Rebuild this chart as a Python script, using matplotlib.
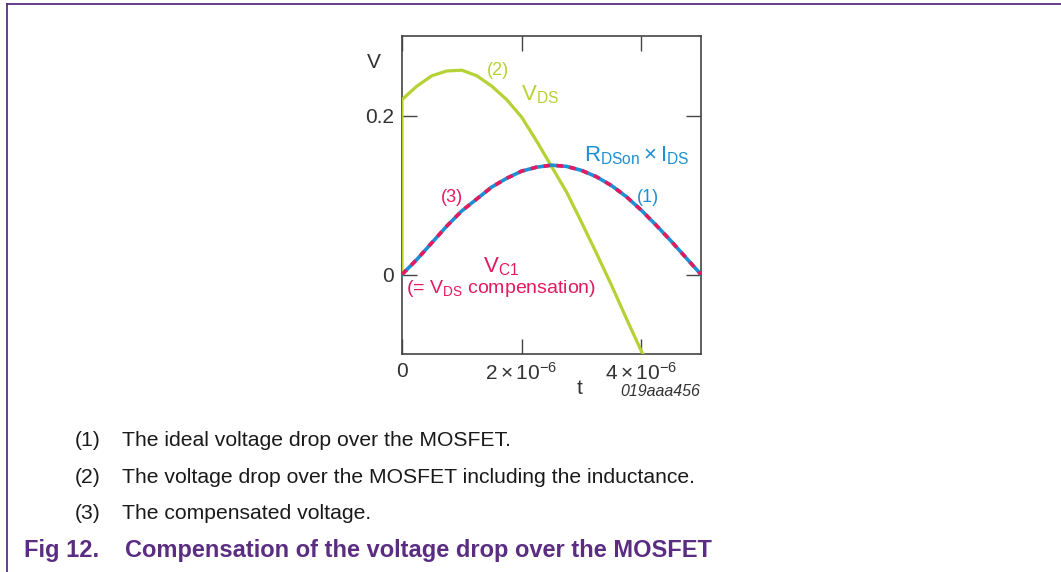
import numpy as np
import matplotlib
matplotlib.use('Agg')
import matplotlib.pyplot as plt
from matplotlib.lines import Line2D

plt.rcParams['font.family'] = ['Liberation Sans', 'DejaVu Sans']
plt.rcParams['mathtext.fontset'] = 'custom'
plt.rcParams['mathtext.rm'] = 'Liberation Sans'
plt.rcParams['mathtext.it'] = 'Liberation Sans:italic'
plt.rcParams['mathtext.bf'] = 'Liberation Sans:bold'

# data (time in microseconds, voltage in V)
t_ideal_us = [0, 0.25, 0.5, 0.75, 1.0, 1.25, 1.5, 1.75, 2.0, 2.25, 2.5,
              2.75, 3.0, 3.25, 3.5, 3.75, 4.0, 4.25, 4.5, 4.75, 5.0]
v_ideal = [0, 0.019, 0.040, 0.061, 0.080, 0.095, 0.110, 0.121, 0.130, 0.135, 0.1375,
           0.136, 0.131, 0.123, 0.112, 0.098, 0.081, 0.062, 0.042, 0.021, 0]
v_comp = v_ideal  # compensated voltage lies on top of the ideal curve

t_vds_us = [0, 0, 0.25, 0.5, 0.75, 1.0, 1.25, 1.5, 1.75, 2.0, 2.25, 2.5,
            2.75, 3.0, 3.25, 3.5, 3.75, 4.0, 4.03]
v_vds = [0, 0.220, 0.237, 0.250, 0.256, 0.257, 0.250, 0.237, 0.220, 0.198, 0.168, 0.136,
         0.104, 0.066, 0.027, -0.013, -0.055, -0.096, -0.100]

xticks = [0, 2e-6, 4e-6]
xtick_labels = ['0', r'$2\times10^{-6}$', r'$4\times10^{-6}$']
yticks = [0, 0.2]
ytick_labels = ['0', '0.2']

captions = ['The ideal voltage drop over the MOSFET.',
            'The voltage drop over the MOSFET including the inductance.',
            'The compensated voltage.']

blue = '#1e8fd2'
red = '#e5195e'
green = '#b5d235'
purple = '#5a2d82'
dark = '#333333'

W, H = 1061, 572
fig = plt.figure(figsize=(W / 100, H / 100), dpi=100)
ax = fig.add_axes([402 / W, 1 - 354 / H, 299 / W, 318 / H])

t_ideal = np.array(t_ideal_us) * 1e-6
t_vds = np.array(t_vds_us) * 1e-6

ax.plot(t_vds, v_vds, color=green, lw=2.3, zorder=3)
ax.plot(t_ideal, v_ideal, color=blue, lw=2.6, zorder=4)
ax.plot(t_ideal, v_comp, color=red, lw=2.6, dashes=(1.8, 1.8), zorder=5)

ax.set_xlim(0, 5e-6)
ax.set_ylim(-0.1, 0.3)
ax.set_xticks(xticks)
ax.set_xticklabels(xtick_labels)
ax.set_yticks(yticks)
ax.set_yticklabels(ytick_labels)
ax.tick_params(direction='in', top=True, right=True, length=11, width=1.0,
               color='#444444', labelsize=15, labelcolor=dark, pad=6)
for s in ax.spines.values():
    s.set_color('#444444')
    s.set_linewidth(1.2)

# curve annotations
ax.text(1.61e-6, 0.257, '(2)', color=green, fontsize=13, ha='center', va='center')
ax.text(2.31e-6, 0.226, r'$\mathrm{V_{DS}}$', color=green, fontsize=16, ha='center', va='center')
ax.text(3.93e-6, 0.149, r'$\mathrm{R_{DSon}\times I_{DS}}$', color=blue, fontsize=16,
        ha='center', va='center')
ax.text(4.12e-6, 0.097, '(1)', color=blue, fontsize=13, ha='center', va='center')
ax.text(0.83e-6, 0.097, '(3)', color=red, fontsize=13, ha='center', va='center')
ax.text(1.65e-6, 0.010, r'$\mathrm{V_{C1}}$', color=red, fontsize=16, ha='center', va='center')
ax.text(1.66e-6, -0.018, r'(= $\mathrm{V_{DS}}$ compensation)', color=red, fontsize=14,
        ha='center', va='center')

# axis names and figure code
ax.text(-0.094, 0.918, 'V', transform=ax.transAxes, fontsize=15, color=dark,
        ha='center', va='center')
fig.text(580 / W, 1 - 389 / H, 't', fontsize=15, color=dark, ha='center', va='center')
fig.text(700 / W, 1 - 391 / H, '019aaa456', fontsize=11.5, style='italic', color=dark,
         ha='right', va='center')

# document frame
fig.add_artist(Line2D([7 / W, 1], [1 - 4.3 / H, 1 - 4.3 / H], color=purple, lw=1.3))
fig.add_artist(Line2D([7.3 / W, 7.3 / W], [0, 1 - 4.3 / H], color=purple, lw=1.3))

# captions
base_y = [446, 483, 519]
for i, txt in enumerate(captions):
    fig.text(75 / W, 1 - base_y[i] / H, '(%d)' % (i + 1), fontsize=15.2, color='#1a1a1a',
             va='baseline')
    fig.text(122 / W, 1 - base_y[i] / H, txt, fontsize=15.2, color='#1a1a1a', va='baseline')
fig.text(24 / W, 1 - 557 / H, 'Fig 12.', fontsize=17, fontweight='bold', color=purple,
         va='baseline')
fig.text(125 / W, 1 - 557 / H, 'Compensation of the voltage drop over the MOSFET',
         fontsize=17, fontweight='bold', color=purple, va='baseline')

fig.savefig('out.png', dpi=100)
